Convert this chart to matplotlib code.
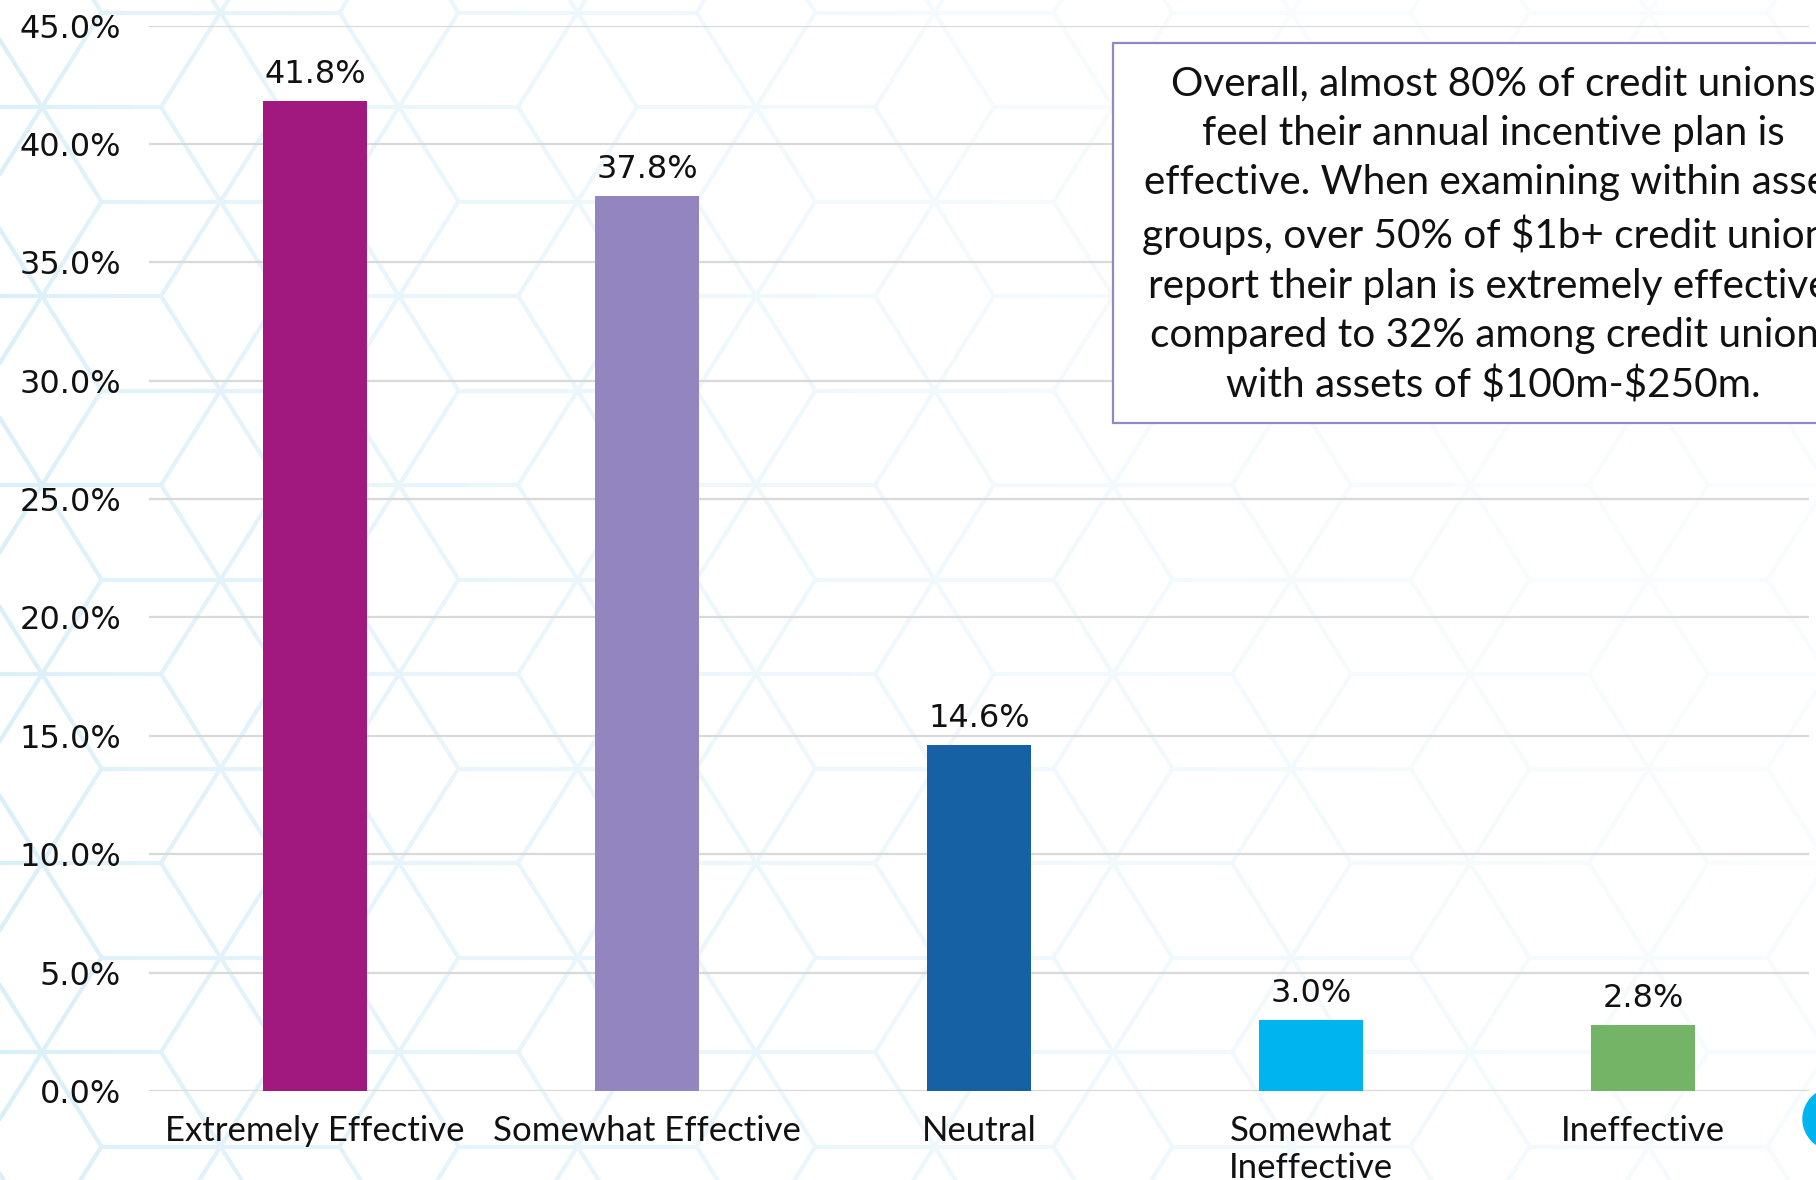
import numpy as np
import matplotlib
matplotlib.use("Agg")
import matplotlib.pyplot as plt
from matplotlib.collections import LineCollection
from matplotlib.patches import Rectangle, Circle

categories = ["Extremely Effective", "Somewhat Effective", "Neutral",
              "Somewhat\nIneffective", "Ineffective"]
values = [41.8, 37.8, 14.6, 3.0, 2.8]
bar_colors = ["#a1197e", "#9386c0", "#1661a3", "#00b4ef", "#74b466"]
y_ticks = [0, 5, 10, 15, 20, 25, 30, 35, 40, 45]
note_lines = [
    "Overall, almost 80% of credit unions",
    "feel their annual incentive plan is",
    "effective. When examining within asset",
    "groups, over 50% of \\$1b+ credit unions",
    "report their plan is extremely effective,",
    "compared to 32% among credit unions",
    "with assets of \\$100m-\\$250m.",
]

W, H = 1816, 1180
fig = plt.figure(figsize=(W / 100, H / 100), dpi=100)
fig.patch.set_facecolor("white")

# decorative tumbling-blocks pattern behind everything (pixel coordinates)
bg = fig.add_axes([0, 0, 1, 1], zorder=-1)
bg.set_xlim(0, W)
bg.set_ylim(H, 0)
bg.axis("off")

s, h = 119.0, 94.5
segs = []
for i in range(-2, 13):
    cx = 42 + 1.5 * s * i
    for j in range(-2, 9):
        cy = 107 + 2 * h * j + (h if i % 2 else 0)
        segs.append([(cx - s, cy), (cx + s, cy)])
        segs.append([(cx - s / 2, cy - h), (cx + s / 2, cy + h)])
        segs.append([(cx - s / 2, cy + h), (cx + s / 2, cy - h)])
bg.add_collection(LineCollection(segs, colors="#d2ecf9", linewidths=3.0, zorder=1))

# whiten the pattern towards the upper right
yy, xx = np.mgrid[0:H:4, 0:W:4]
fade = (0.18 + 0.85 * (xx / W) ** 0.55) * (0.78 + 0.22 * (1 - yy / H))
overlay = np.ones(xx.shape + (4,))
overlay[..., 3] = np.clip(fade, 0, 0.88)
bg.imshow(overlay, extent=(0, W, H, 0), zorder=2, interpolation="bilinear", aspect="auto")

# corner dot, mostly off the canvas
bg.add_patch(Circle((1834, 1119), 31, color="#00b4ef", zorder=3))

# main bar chart
ax = fig.add_axes([149 / W, 1 - 1091 / H, (1809 - 149) / W, (1091 - 25.5) / H])
ax.set_facecolor("none")
x = np.arange(len(categories))
ax.bar(x, values, width=0.314, color=bar_colors, zorder=3)
for xi, v in zip(x, values):
    ax.annotate(f"{v:.1f}%", (xi, v), xytext=(0, 8), textcoords="offset points",
                ha="center", va="bottom", fontsize=23, family="DejaVu Sans", color="#111111")

ax.set_xlim(-0.5, 4.5)
ax.set_ylim(0, 45)
ax.set_yticks(y_ticks)
ax.set_yticklabels([f"{t:.1f}%" for t in y_ticks], fontsize=23, family="DejaVu Sans", color="#111111")
ax.set_xticks(x)
ax.set_xticklabels(categories, fontsize=25, family="Lato", color="#111111", linespacing=1.2)
ax.tick_params(axis="y", length=0, pad=20)
ax.tick_params(axis="x", length=0, pad=17)
ax.yaxis.grid(True, color="#d9d9d9", linewidth=1.6, zorder=0)
ax.set_axisbelow(True)
for sp in ax.spines.values():
    sp.set_visible(False)

# call-out box
box = Rectangle((1113 / W, 1 - 423 / H), 760 / W, 380 / H, transform=fig.transFigure,
                facecolor="white", edgecolor="#9488c4", linewidth=1.6, zorder=5)
fig.add_artist(box)
fig.text(1493 / W, 1 - 235 / H, "\n".join(note_lines), ha="center", va="center",
         multialignment="center", fontsize=29.2, family="Lato", color="#111111",
         linespacing=1.41, zorder=6)

fig.savefig("out.png", dpi=100)
